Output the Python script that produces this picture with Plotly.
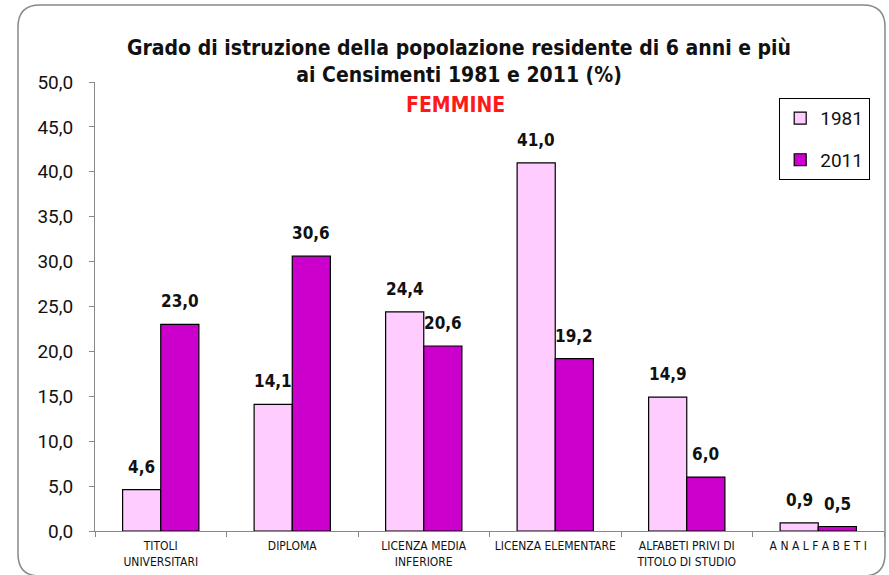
import plotly.graph_objects as go

categories = ["TITOLI<br>UNIVERSITARI", "DIPLOMA", "LICENZA MEDIA<br>INFERIORE",
              "LICENZA ELEMENTARE", "ALFABETI PRIVI DI<br>TITOLO DI STUDIO", "A N A L F A B E T I"]
values_1981 = [4.6, 14.1, 24.4, 41.0, 14.9, 0.9]
values_2011 = [23.0, 30.6, 20.6, 19.2, 6.0, 0.5]
series_names = ["1981", "2011"]
colors = ["#FFCCFF", "#CC00CC"]
y_ticks = [0, 5, 10, 15, 20, 25, 30, 35, 40, 45, 50]

W, H = 889, 575
L, R, T, B = 95, 5, 82, 44
pw, ph = W - L - R, H - T - B
COND = "DejaVu Sans Condensed, Roboto Condensed, Arial Narrow, sans-serif"

fig = go.Figure()
for i, (name, vals) in enumerate(zip(series_names, [values_1981, values_2011])):
    fig.add_trace(go.Bar(
        x=categories, y=vals, name=name, legendgroup=name,
        marker=dict(color=colors[i], line=dict(color="black", width=1.2)),
        offsetgroup=str(i),
    ))

# data labels
offs = [-0.145, 0.145]
for i, vals in enumerate([values_1981, values_2011]):
    for j, v in enumerate(vals):
        fig.add_annotation(
            x=j + offs[i], y=v, xref="x", yref="y",
            text="<b>" + f"{v:.1f}".replace(".", ",") + "</b>",
            showarrow=False, yshift=23, xanchor="center", yanchor="middle",
            font=dict(family=COND, size=17, color="#111111"),
        )

# rounded chart border (decoration)
def px(x): return (x - L) / pw
def py(y): return (H - B - y) / ph
x0, x1, y0, y1, r = 18, 885, 5, 576, 22
path = (f"M {px(x0+r)},{py(y0)} L {px(x1-r)},{py(y0)} Q {px(x1)},{py(y0)} {px(x1)},{py(y0+r)} "
        f"L {px(x1)},{py(y1-r)} Q {px(x1)},{py(y1)} {px(x1-r)},{py(y1)} "
        f"L {px(x0+r)},{py(y1)} Q {px(x0)},{py(y1)} {px(x0)},{py(y1-r)} "
        f"L {px(x0)},{py(y0+r)} Q {px(x0)},{py(y0)} {px(x0+r)},{py(y0)} Z")
fig.add_shape(type="path", path=path, xref="paper", yref="paper",
              line=dict(color="#888888", width=1.5), layer="below")

fig.add_annotation(
    x=px(459), y=py(62), xref="paper", yref="paper", showarrow=False,
    xanchor="center", yanchor="middle",
    text="<b>Grado di istruzione della popolazione residente di 6 anni e più<br>ai Censimenti 1981 e 2011 (%)</b>",
    font=dict(family=COND, size=21, color="#111111"),
    align="center",
)
fig.add_annotation(
    x=px(455), y=py(105), xref="paper", yref="paper", showarrow=False,
    xanchor="center", yanchor="middle",
    text="<b>FEMMINE</b>",
    font=dict(family=COND, size=21, color="#FF1A1A"),
)

fig.update_layout(
    width=W, height=H,
    margin=dict(l=L, r=R, t=T, b=B, autoexpand=False),
    paper_bgcolor="white", plot_bgcolor="white",
    separators=",.",
    barmode="group", bargap=0.42, bargroupgap=0,
    showlegend=True,
    legend=dict(
        x=px(779), y=py(98), xanchor="left", yanchor="top",
        bordercolor="black", borderwidth=1.2, bgcolor="white",
        font=dict(family="Roboto, Arial, sans-serif", size=19, color="#111111"),
        tracegroupgap=14, traceorder="grouped", itemwidth=30,
    ),
    xaxis=dict(
        showline=True, linecolor="#888888", linewidth=1,
        ticks="outside", tickson="boundaries", ticklen=5, tickcolor="#888888",
        tickangle=0, automargin=False, ticklabelstandoff=4,
        tickfont=dict(family=COND, size=12, color="#111111"),
        showgrid=False,
    ),
    yaxis=dict(
        range=[0, 50], tickvals=y_ticks, tickformat=".1f", automargin=False,
        showline=True, linecolor="#888888", linewidth=1,
        ticks="outside", ticklen=5, tickcolor="#888888", ticklabelstandoff=12,
        tickfont=dict(family="Roboto, Arial, sans-serif", size=19, color="#111111"),
        showgrid=False, zeroline=False,
    ),
)

fig.write_html("out.html", config={"displayModeBar": False},
               post_script="document.body.style.margin='0';document.body.style.overflow='hidden';")
